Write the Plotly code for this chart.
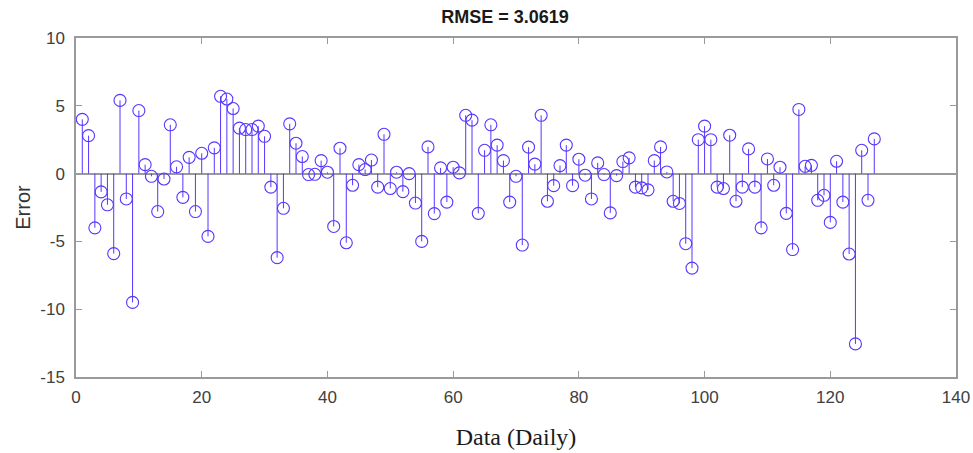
import plotly.graph_objects as go

days = list(range(1, 128))
errors = [
    4.0, 2.8, -4.0, -1.35, -2.3, -5.9, 5.4, -1.87, -9.5, 4.65,
    0.66, -0.2, -2.8, -0.4, 3.6, 0.5, -1.75, 1.2, -2.8, 1.5,
    -4.63, 1.9, 5.7, 5.5, 4.8, 3.35, 3.25, 3.25, 3.5, 2.75,
    -1.0, -6.2, -2.56, 3.67, 2.24, 1.26, -0.07, -0.05, 0.96, 0.1,
    -3.9, 1.87, -5.1, -0.86, 0.66, 0.3, 1.0, -1.0, 2.9, -1.1,
    0.1, -1.33, 0.0, -2.17, -5.0, 1.97, -2.95, 0.42, -2.1, 0.47,
    0.05, 4.3, 3.94, -2.93, 1.72, 3.6, 2.1, 0.96, -2.1, -0.2,
    -5.27, 1.95, 0.7, 4.3, -2.04, -0.89, 0.59, 2.1, -0.89, 1.06,
    -0.12, -1.87, 0.79, -0.07, -2.9, -0.15, 0.89, 1.16, -1.0, -1.05,
    -1.2, 0.96, 1.97, 0.12, -2.04, -2.2, -5.17, -6.97, 2.5, 3.5,
    2.5, -1.0, -1.1, 2.83, -2.04, -1.0, 1.82, -1.0, -4.0, 1.08,
    -0.86, 0.47, -2.93, -5.6, 4.73, 0.54, 0.61, -1.97, -1.6, -3.6,
    0.91, -2.1, -5.93, -12.56, 1.72, -1.97, 2.56,
]
x_ticks = [0, 20, 40, 60, 80, 100, 120, 140]
y_ticks = [10, 5, 0, -5, -10, -15]
y_tick_labels = ["10", "5", "0", "-5", "-10", "-15"]
title_text = "RMSE = 3.0619"

stem_color = "rgb(85,55,255)"
W, H = 973, 453

# stems built from data
sx, sy = [], []
for d, e in zip(days, errors):
    sx += [d, d, None]
    sy += [0, e, None]

fig = go.Figure()
fig.add_trace(go.Scatter(x=sx, y=sy, mode="lines",
                         line=dict(color=stem_color, width=1),
                         hoverinfo="skip", showlegend=False))
fig.add_trace(go.Scatter(x=days, y=errors, mode="markers",
                         marker=dict(symbol="circle-open", size=12,
                                     color=stem_color, line=dict(width=1.1)),
                         showlegend=False))

axis_common = dict(showline=True, mirror="ticks", linecolor="#9a9a9a", linewidth=1.5,
                   ticks="inside", ticklen=6, tickcolor="#9a9a9a",
                   showgrid=False, automargin=False,
                   tickfont=dict(family="Liberation Sans, Arial", size=17, color="#404040"))

fig.update_layout(
    width=W, height=H,
    margin=dict(l=76, r=17, t=38, b=76),
    paper_bgcolor="white", plot_bgcolor="white",
    title=dict(text="<b>" + title_text + "</b>", x=505 / W, xanchor="center",
               y=1 - 17 / H, yanchor="middle",
               font=dict(family="Liberation Sans, Arial", size=18, color="#1a1a1a")),
    xaxis=dict(range=[0, 140], tickvals=x_ticks, zeroline=False,
               ticklabelstandoff=4,
               title=dict(text="Data (Daily)", standoff=22,
                          font=dict(family="Liberation Serif, Times New Roman", size=24, color="#1a1a1a")),
               **axis_common),
    yaxis=dict(range=[-15, 10], tickvals=y_ticks, ticktext=y_tick_labels,
               zeroline=True, zerolinecolor="#9a9a9a", zerolinewidth=2,
               ticklabelstandoff=6,
               title=dict(text="Error", standoff=4,
                          font=dict(family="Liberation Sans, Arial", size=20, color="#333333")),
               **axis_common),
)

fig.write_html("out.html", config={"displayModeBar": False},
               post_script="document.body.style.margin='0px';document.body.style.overflow='hidden';")
